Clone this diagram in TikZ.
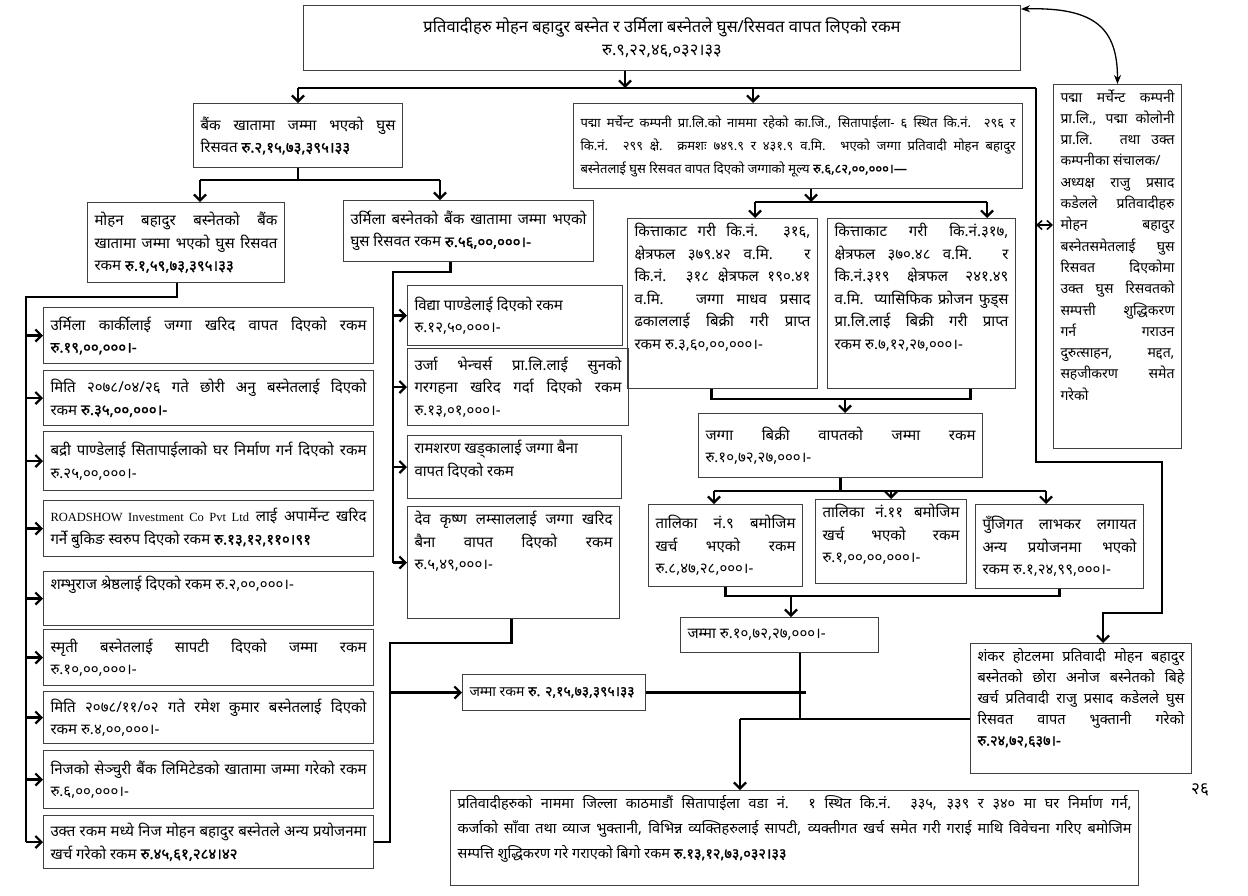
\documentclass[tikz,border=0pt]{standalone}
\usepackage{fontspec}
\setmainfont{Noto Sans}[Script=Devanagari]
\newfontfamily\amtfont{Noto Sans}[Script=Devanagari,FakeBold=1.2]
\newfontfamily\latinserif{Liberation Serif}
\usetikzlibrary{arrows.meta,positioning}
\newcommand{\cellbox}[4][c]{\parbox[c][\dimexpr#3pt-10pt\relax][#1]{\dimexpr#2pt-14pt\relax}{#4}}
\newcommand{\amt}[1]{{\amtfont #1}}
\tikzset{box/.style={draw=black!75,line width=1pt,inner xsep=7pt,inner ysep=5pt,anchor=north west,font=\fontsize{15}{22.5}\selectfont},
titlebox/.style={draw=black!75,line width=1pt,anchor=north west,align=center,minimum width=717pt,minimum height=65pt,font=\fontsize{16.5}{23}\selectfont},
link/.style={line width=2.2pt},
arr/.style={line width=2.2pt,-{Straight Barb[length=6pt,width=12pt]}},
dbl/.style={line width=1.5pt,{Straight Barb[length=5pt,width=9pt]}-{Straight Barb[length=5pt,width=9pt]}},
curv/.style={line width=1.3pt,{Stealth[length=9pt,width=7pt]}-{Stealth[length=9pt,width=7pt]}}}

\begin{document}
\begin{tikzpicture}[x=1pt,y=-1pt]
\useasboundingbox (0,0) rectangle (1248,895);
% heading and first split
\node[titlebox] (top) at (303,5) {प्रतिवादीहरु मोहन बहादुर बस्नेत र उर्मिला बस्नेतले घुस/रिसवत वापत लिएको रकम\\रु.९,२२,४६,०३२।३३};
\node[box] (bank) at (193,103) {\cellbox{209}{64}{बैंक खातामा जम्मा भएको घुस\linebreak रिसवत \amt{रु.२,१५,७३,३९५।३३}}};
\node[box,font=\fontsize{13}{23}\selectfont] (pragya) at (573,103) {\cellbox{449}{85}{पद्मा मर्चेन्ट कम्पनी प्रा.लि.को नाममा रहेको का.जि., सितापाईला- ६ स्थित कि.नं. २९६ र\linebreak कि.नं. २९९ क्षे. क्रमशः ७४९.९ र ४३१.९ व.मि. भएको जग्गा प्रतिवादी मोहन बहादुर\linebreak बस्नेतलाई घुस रिसवत वापत दिएको जग्गाको मूल्य \amt{रु.६,८२,००,०००।—}}};
\node[box,font=\fontsize{14}{21.3}\selectfont] (padma) at (1053,84) {\cellbox[t]{128}{364}{पद्मा मर्चेन्ट कम्पनी\linebreak प्रा.लि., पद्मा कोलोनी\linebreak प्रा.लि. तथा उक्त\linebreak कम्पनीका संचालक/\\ अध्यक्ष राजु प्रसाद\linebreak कडेलले प्रतिवादीहरु\linebreak मोहन बहादुर\linebreak बस्नेतसमेतलाई घुस\linebreak रिसवत दिएकोमा\linebreak उक्त घुस रिसवतको\linebreak सम्पत्ती शुद्धिकरण\linebreak गर्न गराउन\linebreak दुरुत्साहन, मद्दत,\linebreak सहजीकरण समेत\linebreak गरेको}};

% bank account branch
\node[box] (mohan) at (87,202) {\cellbox{197}{80}{मोहन बहादुर बस्नेतको बैंक\linebreak खातामा जम्मा भएको घुस रिसवत\linebreak रकम \amt{रु.१,५९,७३,३९५।३३}}};
\node[box] (urmila) at (343,200) {\cellbox{250}{61}{उर्मिला बस्नेतको बैंक खातामा जम्मा भएको\linebreak घुस रिसवत रकम \amt{रु.५६,००,०००।-}}};

% left column
\node[box] (l1) at (43,307) {\cellbox{330}{56}{उर्मिला कार्कीलाई जग्गा खरिद वापत दिएको रकम\linebreak \amt{रु.१९,००,०००।-}}};
\node[box,below=6pt of l1.south west,anchor=north west] (l2) {\cellbox{330}{55}{मिति २०७८/०४/२६ गते छोरी अनु बस्नेतलाई दिएको\linebreak रकम \amt{रु.३५,००,०००।-}}};
\node[box,below=5pt of l2.south west,anchor=north west] (l3) {\cellbox{330}{59}{बद्री पाण्डेलाई सितापाईलाको घर निर्माण गर्न दिएको रकम\linebreak रु.२५,००,०००।-}};
\node[box,below=9pt of l3.south west,anchor=north west] (l4) {\cellbox{330}{56}{{\latinserif\fontsize{12.5}{22.5}\selectfont ROADSHOW Investment Co Pvt Ltd} लाई अपार्मेन्ट खरिद\linebreak गर्ने बुकिङ स्वरुप दिएको रकम \amt{रु.१३,१२,११०।९१}}};
\node[box,below=14pt of l4.south west,anchor=north west] (l5) {\cellbox[t]{330}{54}{शम्भुराज श्रेष्ठलाई दिएको रकम रु.२,००,०००।-}};
\node[box,below=3pt of l5.south west,anchor=north west] (l6) {\cellbox{330}{56}{स्मृती बस्नेतलाई सापटी दिएको जम्मा रकम\linebreak रु.१०,००,०००।-}};
\node[box,below=5pt of l6.south west,anchor=north west] (l7) {\cellbox{330}{52}{मिति २०७८/११/०२ गते रमेश कुमार बस्नेतलाई दिएको\linebreak रकम रु.४,००,०००।-}};
\node[box,below=6pt of l7.south west,anchor=north west] (l8) {\cellbox{330}{58}{निजको सेञ्चुरी बैंक लिमिटेडको खातामा जम्मा गरेको रकम\linebreak रु.६,००,०००।-}};
\node[box,below=6pt of l8.south west,anchor=north west] (l9) {\cellbox{330}{53}{उक्त रकम मध्ये निज मोहन बहादुर बस्नेतले अन्य प्रयोजनमा\linebreak खर्च गरेको रकम \amt{रु.४५,६१,२८४।४२}}};

% middle column
\node[box] (m1) at (407,285) {\cellbox{215}{60}{विद्या पाण्डेलाई दिएको रकम\\ रु.१२,५०,०००।-}};
\node[box,below=2pt of m1.south west,anchor=north west] (m2) {\cellbox{221}{77}{उर्जा भेन्चर्स प्रा.लि.लाई सुनको\linebreak गरगहना खरिद गर्दा दिएको रकम\linebreak रु.१३,०१,०००।-}};
\node[box,below=9pt of m2.south west,anchor=north west] (m3) {\cellbox[t]{214}{63}{रामशरण खड्कालाई जग्गा बैना\\ वापत दिएको रकम}};
\node[box,below=7pt of m3.south west,anchor=north west] (m4) {\cellbox[t]{212}{112}{देव कृष्ण लम्साललाई जग्गा खरिद\linebreak बैना वापत दिएको रकम\linebreak रु.५,४९,०००।-}};
\node[box,font=\fontsize{14}{20}\selectfont] (jamma) at (462,674) {\cellbox{183}{36}{\mbox{जम्मा रकम \amt{रु. २,१५,७३,३९५।३३}}}};

% land branch
\node[box] (k1) at (627,218) {\cellbox[t]{190}{170}{कित्ताकाट गरी कि.नं. ३१६,\linebreak क्षेत्रफल ३७९.४२ व.मि. र\linebreak कि.नं. ३१८ क्षेत्रफल १९०.४१\linebreak व.मि. जग्गा माधव प्रसाद\linebreak ढकाललाई बिक्री गरी प्राप्त\linebreak रकम रु.३,६०,००,०००।-}};
\node[box] (k2) at (827,218) {\cellbox[t]{188}{170}{कित्ताकाट गरी कि.नं.३१७,\linebreak क्षेत्रफल ३७०.४८ व.मि. र\linebreak कि.नं.३१९ क्षेत्रफल २४१.४९\linebreak व.मि. प्यासिफिक फ्रोजन फुड्स\linebreak प्रा.लि.लाई बिक्री गरी प्राप्त\linebreak रकम रु.७,१२,२७,०००।-}};
\node[box] (land) at (698,413) {\cellbox{284}{64}{जग्गा बिक्री वापतको जम्मा रकम\linebreak रु.१०,७२,२७,०००।-}};
\node[box] (t1) at (648,504) {\cellbox{154}{82}{तालिका नं.९ बमोजिम\linebreak खर्च भएको रकम\linebreak रु.८,४७,२८,०००।-}};
\node[box] (t2) at (815,499) {\cellbox[t]{151}{84}{तालिका नं.११ बमोजिम\linebreak खर्च भएको रकम\linebreak रु.१,००,००,०००।-}};
\node[box] (t3) at (975,504) {\cellbox{168}{84}{पुँजिगत लाभकर लगायत\linebreak अन्य प्रयोजनमा भएको\linebreak रकम रु.१,२४,९९,०००।-}};
\node[box] (sum) at (680,617) {\cellbox{198}{35}{जम्मा रु.१०,७२,२७,०००।-}};
\node[box,font=\fontsize{14.5}{21}\selectfont] (shankar) at (970,643) {\cellbox[t]{221}{130}{शंकर होटलमा प्रतिवादी मोहन बहादुर\linebreak बस्नेतको छोरा अनोज बस्नेतको बिहे\linebreak खर्च प्रतिवादी राजु प्रसाद कडेलले घुस\linebreak रिसवत वापत भुक्तानी गरेको\linebreak \amt{रु.२४,७२,६३७।-}}};
\node[box,font=\fontsize{14.5}{25}\selectfont] (bottom) at (450,790) {\cellbox[t]{688}{95}{प्रतिवादीहरुको नाममा जिल्ला काठमाडौं सितापाईला वडा नं. १ स्थित कि.नं. ३३५, ३३९ र ३४० मा घर निर्माण गर्न,\linebreak कर्जाको साँवा तथा व्याज भुक्तानी, विभिन्न व्यक्तिहरुलाई सापटी, व्यक्तीगत खर्च समेत गरी गराई माथि विवेचना गरिए बमोजिम\linebreak सम्पत्ति शुद्धिकरण गरे गराएको बिगो रकम \amt{रु.१३,१२,७३,०३२।३३}}};
\node[font=\fontsize{17}{17}\selectfont] (pgno) at (1200,790) {२६};

% junctions
\coordinate (hub) at (625,88);
\coordinate (barE) at (1036,88);
\coordinate (pr) at (753,88);
\coordinate (rt) at (1162,462);
\coordinate (sh) at (1103,613);
\coordinate (px) at (1036,225);
\coordinate (ma) at (200,180);
\coordinate (ua) at (440,180);
\coordinate (lt) at (26,297);
\coordinate (mt) at (393,272);
\coordinate (jt) at (390,643);
\coordinate (kl) at (755,202);
\coordinate (kr) at (987,202);
\coordinate (kb) at (845,399);
\coordinate (tl) at (714,491);
\coordinate (tr) at (1046,491);
\coordinate (sb) at (791,596);
\coordinate (sj) at (800,719);
\coordinate (bj) at (740,719);

% connectors
\draw[arr] (top.south -| hub) -- (hub);
\draw[link] (bank.north |- hub) -- (barE);
\draw[arr] (bank.north |- hub) -- (bank.north);
\draw[arr] (pr) -- (pr |- pragya.north);
\draw[arr] (barE) |- (rt) |- (sh) -- (sh |- shankar.north);
\draw[dbl] (px) -- (px -| padma.west);
\draw[curv] ([yshift=-4pt]top.north east) .. controls +(75,-2) and +(0,-55) .. (padma.north);

\draw[link] (bank.south) -- (bank.south |- ma);
\draw[link] (ma) -- (ua);
\draw[arr] (ma) -- (ma |- mohan.north);
\draw[arr] (ua) -- (ua |- urmila.north);

\draw[link] ([xshift=-9pt]mohan.south) |- (lt) -- (lt |- l9.west);
\foreach \n in {l1,l2,l3,l4,l5,l6,l7,l8,l9} \draw[arr] (lt |- \n.west) -- (\n.west);
\draw[link] ([xshift=-18pt]urmila.south) |- (mt) -- (mt |- m4.west);
\foreach \n in {m1,m2,m3,m4} \draw[arr] (mt |- \n.west) -- (\n.west);
\draw[link] ([xshift=-2pt]m4.south) |- (jt) |- (l9.east);
\draw[arr] (jt |- jamma.west) -- (jamma.west);

\draw[arr] ([xshift=13pt]pragya.south) -- ([xshift=13pt]pragya.south |- kl);
\draw[link] (kl) -- (kr);
\draw[arr] (kl) -- (kl |- k1.north);
\draw[arr] (kr) -- (kr |- k2.north);
\draw[link] ([xshift=-11pt]k1.south) |- (kb) -| ([xshift=49pt]k2.south);
\draw[arr] (kb) -- (kb |- land.north);

\draw[link] (land.south) -- (land.south |- tl);
\draw[link] (tl) -- (tr);
\draw[arr] (tl) -- (tl |- t1.north);
\draw[arr] (t2.north |- tl) -- (t2.north);
\draw[arr] (tr) -- (tr |- t3.north);
\draw[link] (t1.south) |- (sb) -| (t3.south);
\draw[arr] (sb) -- (sb |- sum.north);

\draw[link] (sum.south -| sj) -- (sj);
\draw[link] (jamma.east) -- ([xshift=6pt]jamma.east -| sj);
\draw[link] (bj) -- (bj -| shankar.west);
\draw[arr] (bj) -- (bj |- bottom.north);
\end{tikzpicture}
\end{document}
